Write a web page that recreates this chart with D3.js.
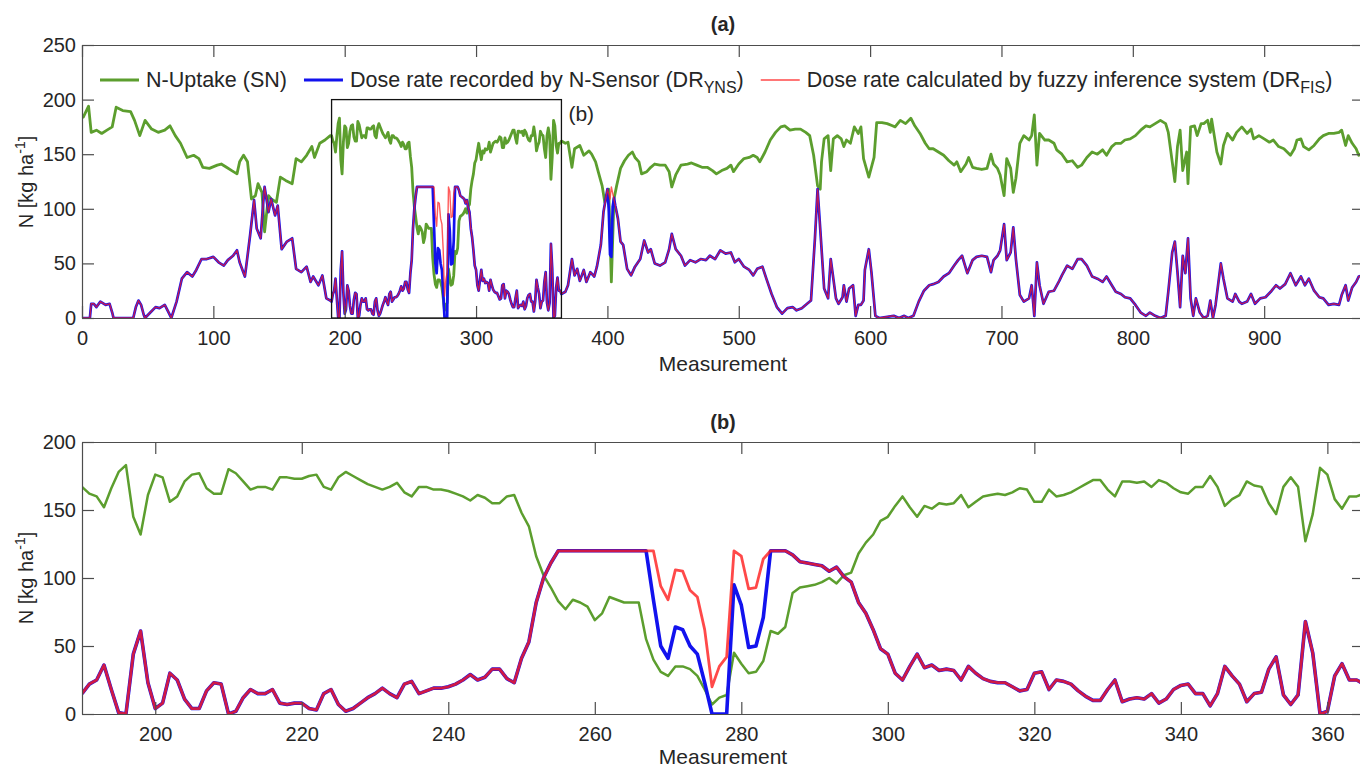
<!DOCTYPE html>
<html>
<head>
<meta charset="utf-8">
<script src="https://cdn.jsdelivr.net/npm/d3@7"></script>
<style>
  body { margin: 0; background: #fff; }
  svg { display: block; font-family: "Liberation Sans", Arial, Helvetica, sans-serif; }
  .axis text { font-size: 20px; fill: #262626; }
  .axis path, .axis line { stroke: #4d4d4d; stroke-width: 1.2; }
  .lbl { font-size: 21px; fill: #262626; }
  .leg { font-size: 21.5px; fill: #262626; }
</style>
</head>
<body>
<svg width="1360" height="769"></svg>
<script>
// ---- data: panel (b), one value per measurement 190..365 ----
let measB = d3.range(190, 366);
let snB = [167,162,160,152,166,178,183,145,132,161,
  176,174,156,160,171,176,177,166,162,162,
  180,177,171,165,167,167,165,174,174,173,
  173,175,176,167,165,174,178,175,172,169,
  167,165,167,170,163,160,167,167,165,165,
  164,162,160,157,161,159,155,155,160,161,
  148,138,116,102,93,83,77,84,82,79,
  69,74,86,84,82,82,82,55,40,31,
  28,35,35,33,28,18,7,12,14,45,
  37,30,31,39,61,59,64,89,93,94,
  95,97,100,96,102,104,118,126,132,142,
  145,153,160,152,145,153,151,155,154,155,
  161,152,156,160,161,162,161,163,166,165,
  156,156,165,160,161,163,166,169,172,172,
  165,160,171,171,170,171,167,172,170,166,
  163,162,167,167,175,167,153,158,161,171,
  168,167,155,147,167,174,167,127,147,181,
  176,158,151,160,160,162];
let fisB = [15,22,25,36,18,1,0,44,61,23,
  4,8,30,25,11,4,4,17,23,22,
  0,2,12,18,15,15,18,8,7,8,
  8,4,3,15,18,7,2,4,8,12,
  15,19,15,12,22,24,15,17,19,19,
  20,22,25,29,25,27,33,33,26,23,
  41,53,82,100,111,120,120,120,120,120,
  120,120,120,120,120,120,120,120,120,94,
  84,106,105,91,86,62,20,35,42,120,
  116,92,93,114,120,120,120,117,112,111,
  110,109,105,108,101,97,82,74,62,48,
  44,30,25,35,44,34,36,32,33,32,
  25,35,30,26,24,23,23,20,17,18,
  30,31,18,25,24,22,17,13,10,10,
  18,25,9,11,12,11,15,8,11,18,
  21,22,15,15,6,15,35,28,22,9,
  15,16,33,42,14,7,14,68,45,0,
  2,28,37,25,25,22];
let ynsB = [15,22,25,36,18,1,0,44,61,23,
  4,8,30,25,11,4,4,17,23,22,
  0,2,12,18,15,15,18,8,7,8,
  8,4,3,15,18,7,2,4,8,12,
  15,19,15,12,22,24,15,17,19,19,
  20,22,25,29,25,27,33,33,26,23,
  41,53,82,100,111,120,120,120,120,120,
  120,120,120,120,120,120,120,120,84,50,
  41,64,62,50,44,23,0,0,0,95,
  80,49,50,71,120,120,120,117,112,111,
  110,109,105,108,101,97,82,74,62,48,
  44,30,25,35,44,34,36,32,33,32,
  25,35,30,26,24,23,23,20,17,18,
  30,31,18,25,24,22,17,13,10,10,
  18,25,9,11,12,11,15,8,11,18,
  21,22,15,15,6,15,35,28,22,9,
  15,16,33,42,14,7,14,68,45,0,
  2,28,37,25,25,22];

// ---- data: panel (a) outside the zoom box, [measurement, value] ----
let snLeft = [[0,185],[1,184],[5,194],[7,170],[11,172],[15,169],[19,172],[23,175],[26,193],[31,190],
  [37,189],[40,181],[44,167],[48,181],[53,173],[58,170],[63,172],[67,176],[71,167],[75,160],
  [80,147],[85,149],[89,146],[92,138],[97,137],[103,140],[106,141],[110,138],[114,135],[118,132],
  [120,143],[123,149],[126,143],[129,109],[132,112],[134,123],[137,115],[139,79],[142,112],[144,109],
  [148,106],[151,129],[155,126],[160,123],[163,146],[167,143],[171,149],[175,157],[177,147],[181,160],
  [185,163],[189,167]];
let drLeft = [[0,0],[6,0],[7,13],[9,13],[11,10],[14,15],[18,12],[21,13],[23,5],[24,0],
  [39,0],[41,10],[43,16],[45,12],[47,3],[48,0],[52,5],[56,10],[59,9],[63,12],
  [66,5],[68,0],[72,15],[76,36],[80,42],[84,38],[87,44],[91,54],[95,54],[100,56],
  [104,51],[108,48],[111,53],[115,57],[118,62],[120,51],[124,38],[125,47],[128,76],[131,108],
  [133,82],[136,73],[138,106],[139,120],[142,97],[144,109],[147,94],[149,103],[152,63],[156,70],
  [160,73],[163,45],[167,42],[171,47],[174,33],[176,38],[180,30],[183,39],[186,18],[189,16]];
let snRight = [[368,160],[370,161],[373,138],[375,155],[379,158],[382,149],[386,153],[388,150],[391,143],[393,134],
  [396,121],[398,106],[401,118],[403,33],[405,109],[407,121],[410,137],[413,144],[416,149],[419,152],
  [421,147],[424,143],[426,132],[430,134],[433,138],[436,141],[440,140],[444,140],[447,134],[449,120],
  [452,131],[456,140],[461,141],[464,142],[468,140],[472,138],[476,138],[480,135],[483,132],[487,135],
  [491,137],[494,140],[496,134],[500,141],[504,146],[508,147],[511,149],[514,147],[516,143],[520,152],
  [524,163],[528,170],[532,175],[535,176],[539,172],[543,173],[547,173],[551,170],[554,167],[557,149],
  [560,121],[562,118],[563,143],[565,164],[568,167],[570,135],[572,164],[575,167],[578,164],[580,157],
  [582,163],[585,160],[588,175],[591,169],[593,175],[595,146],[599,129],[603,147],[605,179],[609,179],
  [613,178],[617,176],[619,175],[623,181],[627,178],[631,183],[634,176],[638,169],[642,160],[645,155],
  [648,155],[652,152],[656,149],[660,144],[664,140],[666,143],[669,134],[673,141],[675,147],[678,138],
  [681,137],[685,136],[689,137],[692,150],[694,141],[697,137],[699,131],[702,112],[704,146],[707,137],
  [709,115],[711,128],[714,160],[717,167],[721,163],[723,167],[725,186],[727,140],[729,169],[733,163],
  [736,163],[740,160],[742,154],[746,150],[750,143],[754,144],[758,138],[761,140],[765,147],[769,152],
  [773,150],[777,154],[780,149],[784,157],[787,160],[791,160],[794,163],[798,164],[802,167],[806,172],
  [810,176],[813,175],[817,178],[821,181],[825,178],[827,170],[830,143],[832,125],[834,157],[836,172],
  [838,135],[841,152],[842,123],[844,175],[847,176],[849,167],[852,178],[854,178],[857,181],[859,170],
  [860,182],[862,167],[864,152],[867,141],[869,158],[872,169],[876,163],[879,170],[883,175],[887,169],
  [890,173],[892,164],[896,167],[900,164],[904,161],[907,163],[911,157],[915,155],[920,149],[923,155],
  [925,163],[928,164],[930,157],[934,154],[938,158],[942,164],[945,167],[949,169],[953,169],[957,170],
  [959,172],[962,158],[964,167],[967,160],[970,155],[972,149],[976,152]];
let drRight = [[368,24],[370,30],[373,54],[375,39],[377,45],[379,34],[382,44],[384,33],[387,42],[390,38],
  [392,47],[395,67],[397,97],[400,118],[402,109],[403,120],[406,103],[408,91],[410,70],[412,67],
  [415,45],[418,39],[421,47],[425,54],[428,71],[431,60],[433,63],[436,50],[440,48],[444,51],
  [447,63],[449,77],[452,63],[456,57],[459,48],[463,53],[467,51],[471,54],[475,53],[478,57],
  [482,54],[486,62],[490,59],[494,60],[497,51],[500,54],[504,47],[508,44],[511,39],[514,45],
  [518,47],[521,36],[525,22],[529,10],[533,4],[537,9],[541,10],[544,7],[548,9],[552,13],
  [555,16],[558,73],[560,118],[562,82],[565,27],[568,18],[570,54],[572,36],[574,18],[576,13],
  [579,19],[580,30],[582,15],[584,27],[587,30],[589,2],[591,12],[593,12],[595,16],[596,44],
  [599,63],[601,42],[604,2],[607,0],[618,2],[622,0],[626,2],[629,0],[633,2],[637,15],
  [641,25],[645,30],[648,31],[652,33],[656,38],[660,41],[664,48],[667,53],[670,57],[674,41],
  [678,53],[681,56],[685,57],[689,56],[692,42],[694,53],[697,57],[699,62],[702,86],[704,53],
  [707,60],[709,83],[711,54],[714,21],[717,15],[721,18],[723,30],[725,2],[727,51],[729,30],
  [732,13],[736,24],[740,25],[744,34],[746,39],[750,48],[754,45],[758,54],[761,54],[765,48],
  [769,38],[773,36],[777,33],[780,38],[784,30],[787,24],[791,22],[794,19],[798,18],[802,12],
  [806,5],[810,2],[813,5],[817,2],[821,0],[825,2],[827,24],[830,60],[832,70],[834,42],
  [836,10],[838,57],[840,41],[842,73],[844,18],[846,2],[848,18],[851,5],[854,0],[857,2],
  [859,16],[861,0],[863,12],[867,50],[869,36],[872,18],[876,15],[878,22],[881,15],[883,13],
  [887,15],[890,22],[893,13],[897,18],[901,19],[905,24],[909,30],[912,27],[916,31],[920,41],
  [924,30],[928,38],[931,30],[934,36],[938,25],[942,19],[945,18],[949,12],[953,13],[957,12],
  [959,21],[962,30],[964,16],[967,28],[970,33],[972,38],[976,39]];
// where the N-Sensor dose differs from the FIS dose near measurement 400
let ynsDip = [[400,118],[401,100],[402,58],[403,56],[404,102],[405,110],[406,103]];

let legendNames = ["N-Uptake (SN)", "Dose rate recorded by N-Sensor (DR", "Dose rate calculated by fuzzy inference system (DR"];
let legendSubs = ["", "YNS", "FIS"];

let colGreen = "#5c9e2e", colBlue = "#1212ee", colRed = "#ff1c1c";

let svg = d3.select("svg");

function addAxes(g, x, y, width, height, xTicks, yTicks){
  g.append("g").attr("class", "axis")
    .attr("transform", "translate(0," + height + ")")
    .call(d3.axisBottom(x).ticks(xTicks).tickSizeInner(-12).tickSizeOuter(0).tickPadding(13));
  g.append("g").attr("class", "axis")
    .call(d3.axisTop(x).ticks(xTicks).tickSizeInner(-12).tickSizeOuter(0).tickFormat(""));
  g.append("g").attr("class", "axis")
    .call(d3.axisLeft(y).ticks(yTicks).tickSizeInner(-12).tickSizeOuter(0).tickPadding(6));
  g.append("g").attr("class", "axis")
    .attr("transform", "translate(" + width + ",0)")
    .call(d3.axisRight(y).ticks(yTicks).tickSizeInner(-12).tickSizeOuter(0).tickFormat(""));
}

function yLabel(g, cx, cy){
  let t = g.append("text").attr("class", "lbl")
    .attr("transform", "translate(" + cx + "," + cy + ") rotate(-90)")
    .style("text-anchor", "middle").style("font-size", "20px");
  t.append("tspan").text("N [kg ha");
  t.append("tspan").attr("dy", -8).style("font-size", "14px").text("-1");
  t.append("tspan").attr("dy", 8).text("]");
}

function drawSeries(g, x, y, series, clipId){
  let line = d3.line().x(d => x(d[0])).y(d => y(d[1]));
  let lines = g.append("g").attr("clip-path", "url(#" + clipId + ")");
  series.forEach(function(s){
    lines.append("path")
      .datum(s.data)
      .attr("d", line)
      .attr("fill", "none")
      .attr("stroke", s.color)
      .attr("stroke-width", s.width)
      .attr("stroke-opacity", s.opacity || 1)
      .attr("stroke-linejoin", "round");
  });
}

function makeTop(){
  let margin = {top: 45, left: 82};
  let width = 1364 - margin.left;
  let height = 318 - margin.top;

  let g = svg.append("g")
    .attr("transform", "translate(" + margin.left + "," + margin.top + ")");
  svg.append("clipPath").attr("id", "clipA")
    .append("rect").attr("width", width).attr("height", height);

  let x = d3.scaleLinear().domain([0, 976]).range([0, width]);
  let y = d3.scaleLinear().domain([0, 250]).range([height, 0]);

  let snTop = snLeft.concat(d3.zip(measB, snB), snRight);
  let fisTop = drLeft.concat(d3.zip(measB, fisB), drRight);
  let ynsRight = drRight.filter(d => d[0] < 399 || d[0] > 407)
    .concat(ynsDip)
    .sort((a, b) => a[0] - b[0]);
  let ynsTop = drLeft.concat(d3.zip(measB, ynsB), ynsRight);

  drawSeries(g, x, y, [
    {data: snTop, color: colGreen, width: 2.8},
    {data: ynsTop, color: colBlue, width: 2.7},
    {data: fisTop, color: colRed, width: 1.4, opacity: 0.72}
  ], "clipA");

  addAxes(g, x, y, width, height, 10, 5);

  // zoom box for panel (b)
  g.append("rect")
    .attr("x", x(190)).attr("y", y(200))
    .attr("width", x(365) - x(190)).attr("height", y(0) - y(200))
    .attr("fill", "none").attr("stroke", "#111").attr("stroke-width", 1.3);
  g.append("text").attr("class", "lbl")
    .attr("x", x(365) + 7).attr("y", y(200) + 21)
    .text("(b)");

  // legend, no box
  let lx = 100 - margin.left;
  let colors = [colGreen, colBlue, colRed];
  let widths = [2.8, 2.8, 1.4];
  legendNames.forEach(function(name, i){
    g.append("line")
      .attr("x1", lx).attr("x2", lx + 39)
      .attr("y1", 80 - margin.top).attr("y2", 80 - margin.top)
      .attr("stroke", colors[i]).attr("stroke-width", widths[i])
      .attr("stroke-opacity", i == 2 ? 0.8 : 1);
    let t = g.append("text").attr("class", "leg")
      .attr("x", lx + 46).attr("y", 87 - margin.top);
    t.append("tspan").text(name);
    if(legendSubs[i]){
      t.append("tspan").attr("dy", 6).style("font-size", "16px").text(legendSubs[i]);
      t.append("tspan").attr("dy", -6).text(")");
    }
    lx += 46 + t.node().getComputedTextLength() + 17;
  });

  g.append("text").attr("class", "lbl")
    .attr("x", width / 2).attr("y", 31 - margin.top)
    .style("text-anchor", "middle").style("font-weight", "bold").style("font-size", "20px")
    .text("(a)");
  g.append("text").attr("class", "lbl")
    .attr("x", width / 2).attr("y", 371 - margin.top)
    .style("text-anchor", "middle")
    .text("Measurement");
  yLabel(svg, 33, 182);
}

function makeBottom(){
  let margin = {top: 442, left: 82};
  let width = 1364 - margin.left;
  let height = 714 - margin.top;

  let g = svg.append("g")
    .attr("transform", "translate(" + margin.left + "," + margin.top + ")");
  svg.append("clipPath").attr("id", "clipB")
    .append("rect").attr("width", width).attr("height", height);

  let x = d3.scaleLinear().domain([190, 365]).range([0, width]);
  let y = d3.scaleLinear().domain([0, 200]).range([height, 0]);

  drawSeries(g, x, y, [
    {data: d3.zip(measB, snB), color: colGreen, width: 2.5},
    {data: d3.zip(measB, ynsB), color: colBlue, width: 3.6},
    {data: d3.zip(measB, fisB), color: colRed, width: 2.8, opacity: 0.8}
  ], "clipB");

  addAxes(g, x, y, width, height, 10, 4);

  g.append("text").attr("class", "lbl")
    .attr("x", width / 2).attr("y", 429 - margin.top)
    .style("text-anchor", "middle").style("font-weight", "bold").style("font-size", "20px")
    .text("(b)");
  g.append("text").attr("class", "lbl")
    .attr("x", width / 2).attr("y", 764 - margin.top)
    .style("text-anchor", "middle")
    .text("Measurement");
  yLabel(svg, 33, 578);
}

makeTop();
makeBottom();
</script>
</body>
</html>
